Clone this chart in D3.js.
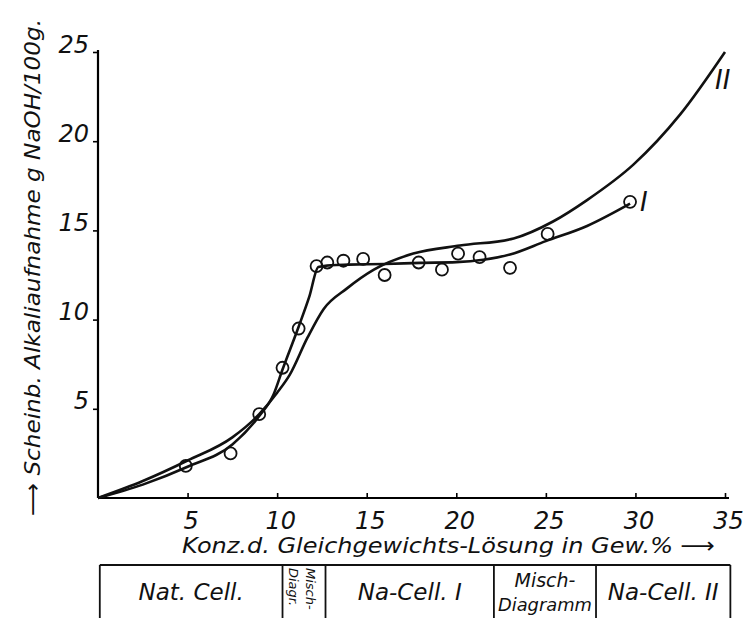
<html>
  <head>
    <script src="https://cdn.jsdelivr.net/npm/d3@7"></script>
    <style>
      body { margin: 0; background: #fff; }
      text { font-family: "DejaVu Sans", sans-serif; font-style: oblique; fill: #111; }
    </style>
  </head>
  <body>
    <div id="chart"></div>
    <script>
      // measured points (circles)
      const pointX = [4.9, 7.4, 9.0, 10.3, 11.2, 12.2, 12.8, 13.7, 14.8, 16.0, 17.9, 19.2, 20.1, 21.3, 23.0, 25.1, 29.7];
      const pointY = [1.8, 2.5, 4.7, 7.3, 9.5, 13.0, 13.2, 13.3, 13.4, 12.5, 13.2, 12.8, 13.7, 13.5, 12.9, 14.8, 16.6];

      // curve I (steep rise, plateau)
      const curveIX = [0, 2.5, 5, 7.5, 9, 9.8, 10.3, 11.2, 11.8, 12.3, 13, 14, 16, 18, 20, 21.5, 23, 25, 27.3, 29.7];
      const curveIY = [0, 0.75, 1.75, 3.0, 4.6, 5.8, 7.2, 9.6, 11.3, 12.95, 13.05, 13.08, 13.12, 13.18, 13.22, 13.35, 13.65, 14.4, 15.25, 16.5];

      // curve II (smooth)
      const curveIIX = [0, 2.5, 5, 7.5, 9, 10, 10.7, 11.7, 12.6, 13.9, 15.4, 17.6, 20.2, 23.2, 25.4, 27.3, 29.9, 32.5, 35];
      const curveIIY = [0, 0.95, 2.1, 3.4, 4.7, 5.9, 6.9, 9.0, 10.6, 11.75, 12.8, 13.7, 14.15, 14.55, 15.5, 16.7, 18.7, 21.5, 25];

      const xTicks = [5, 10, 15, 20, 25, 30, 35];
      const yTicks = [5, 10, 15, 20, 25];

      // phase table below the axis (boundaries in Gew.%)
      const phaseBounds = [0.1, 10.3, 12.7, 22.1, 27.8, 35.3];
      const phaseLabels = [["Nat. Cell."], ["Misch-", "Diagr."], ["Na-Cell. I"], ["Misch-", "Diagramm"], ["Na-Cell. II"]];

      let W = 743, H = 618;
      let margin = { top: 52, right: 18, bottom: 120, left: 98 };
      let width = W - margin.left - margin.right,
        height = H - margin.top - margin.bottom;

      let svg = d3.select("#chart").append("svg")
        .attr("width", W).attr("height", H);
      let vis = svg.append("g")
        .attr("transform", "translate(" + margin.left + "," + margin.top + ")");

      let x = d3.scaleLinear().domain([0, 35]).range([0, 627]);
      let y = d3.scaleLinear().domain([0, 25]).range([height, 0]);

      // axes
      let xAxis = d3.axisBottom(x).tickValues(xTicks).tickSize(-5).tickSizeOuter(0).tickPadding(14);
      let gx = vis.append("g").attr("transform", "translate(0," + height + ")").call(xAxis);
      gx.select(".domain").attr("d", "M0,0H" + (x(35) + 4)).attr("stroke-width", 2.2);
      gx.selectAll(".tick line").attr("stroke-width", 1.6);
      gx.selectAll("text").attr("font-size", 24).attr("font-family", "DejaVu Sans").attr("dx", 3);

      let yAxis = d3.axisLeft(y).tickValues(yTicks).tickSize(5).tickSizeOuter(0).tickPadding(4);
      let gy = vis.append("g").call(yAxis);
      gy.select(".domain").attr("d", "M0," + height + "V" + (y(25) - 2)).attr("stroke-width", 2.2);
      gy.selectAll(".tick line").attr("stroke-width", 1.6);
      gy.selectAll("text").attr("font-size", 24).attr("font-family", "DejaVu Sans").attr("dy", 0);

      // curves
      let line = d3.line().curve(d3.curveMonotoneX).x((d) => x(d[0])).y((d) => y(d[1]));
      vis.append("path").datum(d3.zip(curveIX, curveIY))
        .attr("fill", "none").attr("stroke", "#111").attr("stroke-width", 2.6).attr("d", line);
      vis.append("path").datum(d3.zip(curveIIX, curveIIY))
        .attr("fill", "none").attr("stroke", "#111").attr("stroke-width", 2.6).attr("d", line);

      // points
      vis.selectAll("circle.pt").data(d3.zip(pointX, pointY)).enter()
        .append("circle").attr("class", "pt")
        .attr("cx", (d) => x(d[0])).attr("cy", (d) => y(d[1])).attr("r", 6)
        .attr("fill", "none").attr("stroke", "#111").attr("stroke-width", 1.8);

      // curve labels
      vis.append("text").attr("x", x(29.7) + 10).attr("y", y(16.6) + 9)
        .attr("font-family", "Liberation Serif").attr("font-size", 26).text("I");
      vis.append("text").attr("x", x(35) - 10).attr("y", y(25) + 37)
        .attr("font-family", "Liberation Serif").attr("font-size", 26).text("II");

      // axis titles
      svg.append("text").attr("x", 182).attr("y", 553)
        .attr("font-size", 22).attr("textLength", 533).attr("lengthAdjust", "spacingAndGlyphs")
        .text("Konz.d. Gleichgewichts-Lösung in Gew.% ⟶");
      svg.append("text").attr("transform", "translate(40,516) rotate(-90)")
        .attr("font-size", 22).attr("textLength", 497).attr("lengthAdjust", "spacingAndGlyphs")
        .text("⟶ Scheinb. Alkaliaufnahme g NaOH/100g.");

      // phase table
      let tableTop = 565;
      let table = svg.append("g");
      table.append("line").attr("x1", margin.left + x(phaseBounds[0])).attr("x2", margin.left + x(phaseBounds[5]))
        .attr("y1", tableTop).attr("y2", tableTop).attr("stroke", "#111").attr("stroke-width", 2.2);
      table.selectAll("line.div").data(phaseBounds).enter().append("line").attr("class", "div")
        .attr("x1", (d) => margin.left + x(d)).attr("x2", (d) => margin.left + x(d))
        .attr("y1", tableTop).attr("y2", H).attr("stroke", "#111").attr("stroke-width", 1.8);

      phaseLabels.forEach(function (lines, i) {
        let cx = margin.left + (x(phaseBounds[i]) + x(phaseBounds[i + 1])) / 2;
        if (i === 1) {
          // narrow cell, text turned on its side
          lines.forEach(function (t, j) {
            table.append("text")
              .attr("transform", "translate(" + (cx + 2 - j * 17) + "," + (tableTop + 3) + ") rotate(90)")
              .attr("font-size", 13).text(t);
          });
        } else if (lines.length === 2) {
          table.append("text").attr("x", cx).attr("y", 587).attr("text-anchor", "middle")
            .attr("font-size", 19).text(lines[0]);
          table.append("text").attr("x", cx).attr("y", 611).attr("text-anchor", "middle")
            .attr("font-size", 18).attr("textLength", 94).attr("lengthAdjust", "spacingAndGlyphs")
            .text(lines[1]);
        } else {
          table.append("text").attr("x", cx).attr("y", 600).attr("text-anchor", "middle")
            .attr("font-size", 23).text(lines[0]);
        }
      });
    </script>
  </body>
</html>
